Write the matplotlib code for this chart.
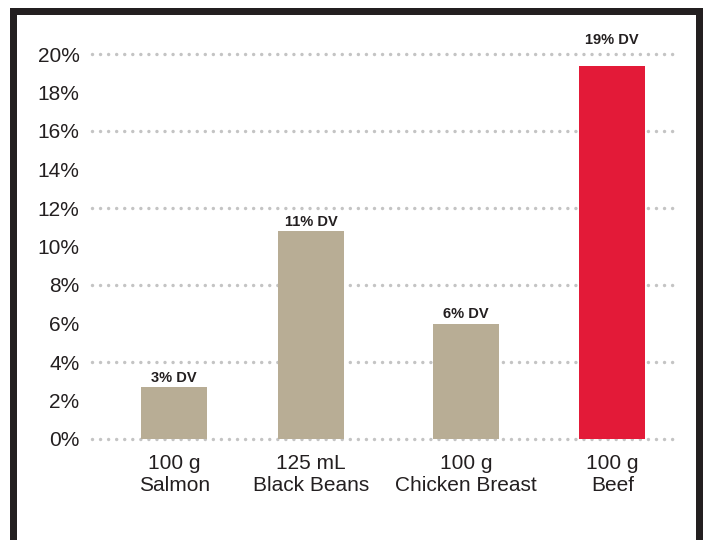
'''
Daily value comparison bar chart (per serving) with a framed border.
'''
import matplotlib
matplotlib.use("Agg")
import matplotlib.pyplot as plt
from matplotlib.patches import Rectangle

# Data
servings = ["100 g", "125 mL", "100 g", "100 g"]
foods = ["Salmon", "Black Beans", "Chicken Breast", "Beef"]
dv_percent = [2.7, 10.8, 6.0, 19.4]
dv_labels = ["3% DV", "11% DV", "6% DV", "19% DV"]
y_ticks = [0, 2, 4, 6, 8, 10, 12, 14, 16, 18, 20]
grid_levels = [0, 4, 8, 12, 16, 20]

# Layout (bar centres are not evenly spaced in the original)
x_pos = [0, 1, 2.13, 3.2]
bar_colors = ["#b8ad95", "#b8ad95", "#b8ad95", "#e31a38"]
text_color = "#231f20"

plt.rcParams["font.family"] = ["Liberation Sans", "DejaVu Sans"]
plt.rcParams["lines.scale_dashes"] = False

fig = plt.figure(figsize=(7.05, 5.4), dpi=100)
ax = fig.add_axes([92 / 705, 101 / 540, 586 / 705, 385 / 540])

ax.set_xlim(-0.6, 3.68)
ax.set_ylim(0, 20)

# Dotted gridlines behind the bars
for level in grid_levels:
  ax.plot([-0.6, 3.68], [level, level], color="#c4c4c4", lw=2.5,
          linestyle=(0, (0.001, 5.8)), dash_capstyle="round", zorder=1,
          clip_on=False)

ax.bar(x_pos, dv_percent, width=0.48, color=bar_colors, zorder=2)

# Value labels above each bar
for x, v, lab in zip(x_pos, dv_percent, dv_labels):
  y_text = v + 0.12 if v < 19 else 20.35
  ax.text(x, y_text, lab, ha="center", va="bottom", fontsize=10.5,
          fontweight="bold", color=text_color, clip_on=False)

ax.set_yticks(y_ticks)
ax.set_yticklabels([f"{t}%" for t in y_ticks])
ax.set_xticks(x_pos)
ax.set_xticklabels([f"{s}\n{f}" for s, f in zip(servings, foods)],
                   linespacing=1.15)
ax.tick_params(axis="both", length=0, labelsize=15, colors=text_color)
ax.tick_params(axis="y", pad=9)
ax.tick_params(axis="x", pad=11)

for spine in ax.spines.values():
  spine.set_visible(False)

# Black frame on left, top and right
frame_kw = dict(transform=fig.transFigure, color="#231f20", lw=0)
fig.patches.append(Rectangle((10 / 705, 0), 7 / 705, 532 / 540, **frame_kw))
fig.patches.append(Rectangle((10 / 705, 525 / 540), 693 / 705, 7 / 540, **frame_kw))
fig.patches.append(Rectangle((696 / 705, 0), 7 / 705, 532 / 540, **frame_kw))

fig.savefig("out.png", dpi=100)
